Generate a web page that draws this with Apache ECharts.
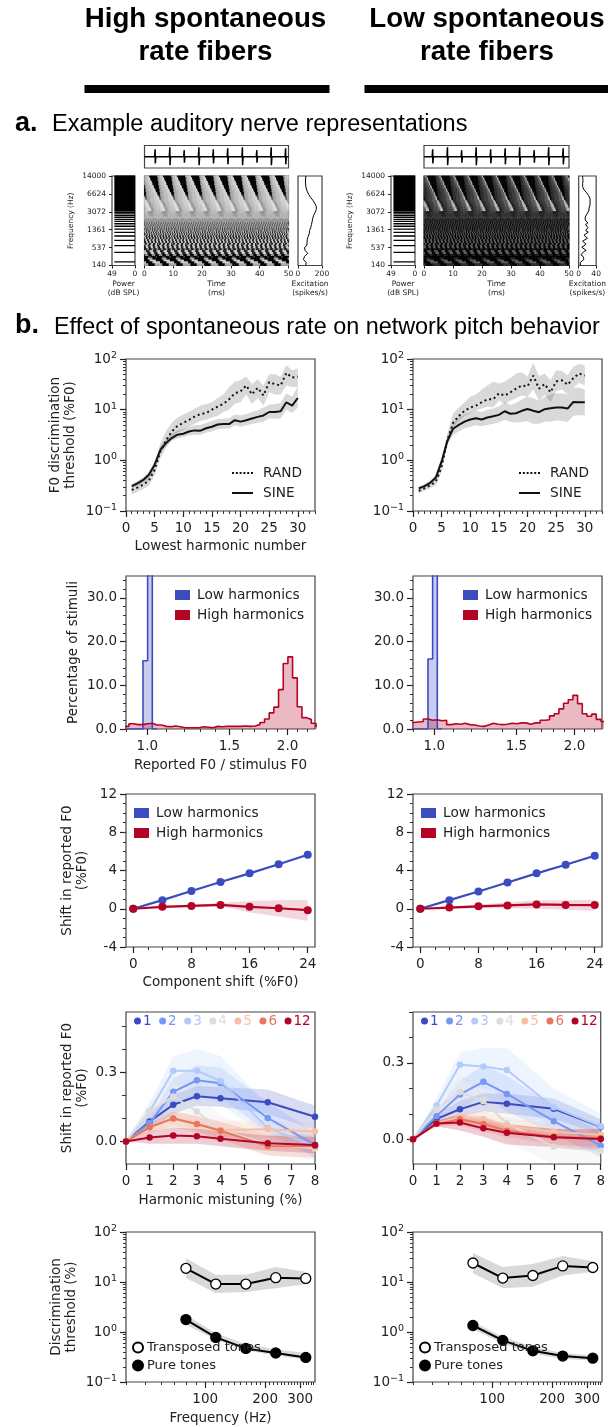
<!DOCTYPE html>
<html>
<head>
<meta charset="utf-8">
<title>Spontaneous rate</title>
<script src="https://cdn.jsdelivr.net/npm/echarts@6/dist/echarts.min.js"></script>
<style>
  html, body { margin: 0; padding: 0; background: #fff; }
  #chart { width: 608px; height: 1427px; }
</style>
</head>
<body>
<div id="chart"></div>
<script>
// a. auditory nerve panels
var harmonicsHz = [200,400,600,800,1000,1200,1400,1600,1800,2000,2200,2400,2600,2800,3000,3200,3400,3600,3800,4000,4200,4400,4600,4800,5000,5200,5400,5600,5800,6000,6200,6400,6600,6800,7000,7200,7400,7600,7800,8000,8200,8400,8600,8800,9000,9200,9400,9600,9800,10000,10200,10400,10600,10800,11000,11200,11400,11600,11800,12000,12200,12400,12600,12800,13000,13200,13400,13600,13800,14000];
var freqTicksHz = [140, 537, 1361, 3072, 6624, 14000];
var timeTicks = [0, 10, 20, 30, 40, 50];
var spikeTimesHigh = [3.7, 8.8, 13.8, 18.9, 23.9, 28.9, 34, 39, 44, 49];
var spikeTimesLow = [3, 8.1, 13, 18, 23, 28, 33, 38, 43, 48];
var spikeAmps = [0.8, 1, 0.7, 1, 0.8, 0.9, 1, 0.7, 1, 0.9];
// bottom to top, evenly spaced along the cochlea
var excitationHigh = [65,72,68,55,45,44,55,70,82,72,58,50,55,72,84,76,70,76,88,84,82,94,100,96,110,106,116,112,118,118,120,122,126,130,133,142,150,153,154,152,148,140,132,124,116,104,94,88,82,76,72,68,66,64,63,62,62,63,64,66];
var excitationLow = [4,2.5,3.5,8,12,14,10,5,5,11,17,13,7,8,17,15,9,12,20,16,12,16,22,16,15,21,17,16,21,18,15,15,15,16,19,22,23,23,24,25,26,26,26,26,26,25,23,21,18,15,12,10,9,9,9,10,10,10,9,9];
// one 5 ms period of the cochleagram, read by eye, top row first, 0-9 = dark to light
var cochleaPeriod = [
  "566677880000000000000045",
  "556667778800000000000004",
  "556666777880000000000004",
  "455666677778800000000000",
  "455566667777880000000000",
  "045556666677778800000000",
  "045555666667777880000000",
  "004555566666677778800000",
  "004555556666667777880000",
  "000455555666666777778800",
  "111455555666666677777881",
  "822245555566666667777788",
  "883334555566666667777778",
  "788844555566666667777777",
  "778888444555666666677777",
  "777888884445556666667777",
  "677788888444555666666777",
  "667777888884445556666677",
  "666777788888444555666667",
  "666665544444445555566666",
  "656565654545454565656565",
  "565656565454545456565656",
  "656575657565656565756575",
  "636363636363636363636363",
  "363636363636363636363636",
  "273273273273273273273273",
  "327327327327327327327327",
  "732732732732732732732732",
  "173173172731731731727317",
  "717317317172731731731727",
  "177117711771177117711771",
  "117711771177117711771177",
  "771117711177111771117711",
  "177111771117711177111771",
  "117771117771117771117771",
  "111777111777111777111777",
  "711117771111777111177711",
  "117777111177771111777711",
  "111777711117777111177771",
  "111114441111144411111444",
  "777111111777777111111777",
  "777771111117777771111117",
  "044444400000044444400000",
  "000000022220000000022200",
  "000000555555550000000000",
  "000000000777777777770000",
  "777000000000007777777777",
  "555555500000000000555555"
];

// b1. F0 discrimination
var harmonicNumbers = [1,2,3,4,5,6,7,8,9,10,11,12,13,14,15,16,17,18,19,20,21,22,23,24,25,26,27,28,29,30];
var randHigh = [.26,.29,.33,.40,.65,1.5,2.5,3.7,4.8,5.5,6.3,7.3,8.2,8.6,10,11.5,13,16,21,23,30,20,27,19,35,32,30,53,43,45];
var randHighLo = [.21,.24,.27,.32,.5,1.1,1.8,2.7,3.5,4.0,4.6,5.3,6,6.3,7,7.5,9,10,13,14,20,13,17,12,22,20,20,30,28,28];
var randHighHi = [.32,.36,.41,.5,.85,2.2,3.8,5.5,7,8,9,10.5,12,13,14,17,20,28,36,38,45,32,40,30,50,50,45,75,60,65];
var sineHigh = [.31,.35,.41,.52,.82,1.6,2.2,2.75,3.2,3.35,3.7,3.9,3.85,4.3,4.6,5.1,5.2,5.2,6.2,5.8,6.2,6.7,7.2,7.7,9,9,9.3,14,12,17];
var sineHighLo = [.28,.31,.36,.44,.7,1.4,1.9,2.4,2.7,2.9,3.1,3.2,3.2,3.5,3.7,4.1,4.2,4.2,4.9,4.6,4.9,5.2,5.5,5.8,6.7,6.6,6.8,10,8.5,11];
var sineHighHi = [.34,.39,.46,.6,.95,1.9,2.6,3.3,3.9,4.2,4.6,5,5,5.5,6,6.5,6.7,6.8,8,7.7,8.2,9,9.7,11,12.5,13,13.5,21,18,29];
var randLow = [.25,.28,.32,.38,.75,2.5,5.5,7.5,9.5,11,12,14,16,16,21,19,22,26,30,29,47,26,32,22,36,38,31,42,52,47];
var randLowLo = [.22,.25,.28,.32,.6,2,4.5,6,7.5,8.5,9.5,10.5,11.5,11,15,13,15,17,19,18,25,15,20,14,23,25,20,27,34,30];
var randLowHi = [.29,.32,.37,.47,1.0,3.3,8.5,11,14,18,20,25,30,36,33,36,42,52,55,45,85,46,52,38,60,58,48,70,80,75];
var sineLow = [.28,.31,.36,.46,.95,2.4,4.2,5,5.8,6.4,6.8,6.4,7,7.4,7.9,9.3,8.3,8.5,9.5,10.3,9.5,8.9,10.2,10.7,11,11,10.5,14.2,14,14];
var sineLowLo = [.26,.28,.33,.41,.8,2,3.2,3.7,4.3,4.6,4.9,4.7,5,5.3,5.6,6.3,5.7,5.6,5.7,5.9,5.2,5.3,5.8,5.8,6.1,6,5.7,7.5,7.8,7.8];
var sineLowHi = [.3,.34,.4,.52,1.15,3,5.5,7,8,8.8,9.5,9,10,10.5,11.5,14,12.5,13.5,16,18,17,15,18,20,21,21,20,27,27,25];

// b2. histograms of reported F0, 1/30 octave bins
var histStartHigh = 0.8923;
var histStartLow = 0.8835;
var binRatio = Math.pow(2, 1 / 30);
var histBlueHigh = [0,0,0,0,15.6,100,0];
var histRedHigh = [.6,1.2,1.0,1.0,1.2,1.3,.9,.9,.6,.5,.7,.5,.3,.3,.3,.3,.5,.4,.3,.6,.5,.6,.6,.6,.6,.7,.6,.7,1.0,1.5,2.3,3.7,5.0,9.0,15,16.5,11.7,5.1,2.6,2.2,1.3,.6];
var histBlueLow = [0,0,0,0,16,100,0];
var histRedLow = [1.5,1.6,1.7,2.3,2.0,2.1,1.9,2.0,1.0,1.2,1.1,1.3,1.0,.9,.7,.6,.9,1.3,1.1,1.0,1.1,1.3,1.2,1.4,1.4,1.1,1.4,1.4,2.0,2.1,3.0,3.5,4.6,5.9,6.7,7.7,5.8,3.5,2.9,3.4,2.2,1.7];

// b3. shifted components
var shiftX = [0,4,8,12,16,20,24];
var shiftBlueHigh = [0,.9,1.85,2.8,3.7,4.65,5.65];
var shiftRedHigh = [0,.2,.3,.4,.2,.05,-.15];
var shiftRedHighLo = [0,.1,.15,.3,-.4,-.8,-1.25];
var shiftRedHighHi = [0,.3,.45,.6,.8,.9,.95];
var shiftBlueLow = [0,.9,1.8,2.75,3.7,4.6,5.55];
var shiftRedLow = [0,.12,.25,.35,.45,.4,.38];
var shiftRedLowLo = [0,0,.05,.05,0,-.1,-.2];
var shiftRedLowHi = [.05,.25,.45,.65,.9,.9,.95];

// b4. mistuned harmonics
var mistuneX = [0,1,2,3,4,6,8];
var mistuneNames = ['1','2','3','4','5','6','12'];
var mistuneColors = ['#3b4cc0','#7597f6','#b1cbfa','#dddcdb','#f6bfa6','#e8765c','#b40426'];
var mistuneHigh = [
  [0,.087,.159,.196,.187,.17,.107],
  [0,.08,.215,.265,.252,.102,-.014],
  [0,.13,.306,.306,.262,.058,-.02],
  [0,.13,.195,.13,.05,-.01,-.03],
  [0,.062,.1,.076,.05,.053,.043],
  [0,.062,.1,.076,.047,-.019,-.02],
  [0,.018,.026,.023,.012,-.007,-.015]
];
var mistuneHighLo = [
  [0,.05,.12,.155,.15,.12,.05],
  [0,.06,.16,.2,.19,.04,-.07],
  [0,.09,.25,.21,.16,.02,-.06],
  [0,.09,.1,.05,-.01,-.06,-.08],
  [0,.04,.07,.05,.02,.02,0],
  [0,.04,.06,.04,.01,-.06,-.07],
  [0,-.01,-.01,-.01,-.02,-.04,-.05]
];
var mistuneHighHi = [
  [0,.12,.2,.24,.235,.225,.155],
  [0,.1,.27,.33,.32,.17,.04],
  [0,.17,.37,.4,.37,.16,.04],
  [0,.17,.29,.21,.11,.04,.02],
  [0,.08,.13,.11,.09,.09,.08],
  [0,.08,.13,.11,.085,.03,.03],
  [0,.045,.06,.055,.045,.025,.02]
];
var mistuneLow = [
  [0,.08,.118,.147,.14,.12,.049],
  [0,.092,.176,.226,.178,.071,-.025],
  [0,.132,.293,.286,.272,.126,.051],
  [0,.118,.186,.149,.063,-.029,-.045],
  [0,.063,.087,.079,.053,.03,.018],
  [0,.06,.079,.06,.034,.011,.004],
  [0,.062,.066,.043,.026,.008,.001]
];
var mistuneLowLo = [
  [0,.06,.09,.11,.1,.08,.02],
  [0,.07,.12,.17,.11,.02,-.07],
  [0,.1,.23,.2,.17,.04,0],
  [0,.08,.11,.08,-.01,-.1,-.13],
  [0,.05,.065,.05,.02,0,-.01],
  [0,.05,.055,.03,.01,-.02,-.03],
  [0,.05,.035,.01,-.02,-.03,-.04]
];
var mistuneLowHi = [
  [0,.1,.15,.18,.18,.16,.08],
  [0,.11,.23,.29,.25,.13,.03],
  [0,.16,.34,.36,.36,.2,.1],
  [0,.15,.25,.22,.14,.04,.03],
  [0,.08,.11,.11,.085,.06,.045],
  [0,.07,.1,.09,.06,.04,.03],
  [0,.075,.095,.075,.06,.04,.04]
];

// b5. transposed tones
var toneFreqs = [80,113,160,226,320];
var transHigh = [18.8,9.1,9.1,12.2,11.8];
var transHighLo = [12,6,6.3,7.5,9];
var transHighHi = [30,14,14,20,16];
var pureHigh = [1.77,.78,.47,.38,.31];
var pureHighLo = [1.4,.7,.43,.34,.28];
var pureHighHi = [2.2,.95,.57,.45,.38];
var transLow = [24,12,13.5,21,19.5];
var transLowLo = [15,7.5,8,13.5,16];
var transLowHi = [38,20,23,33,26];
var pureLow = [1.35,.68,.42,.33,.3];
var pureLowLo = [1.15,.58,.37,.29,.27];
var pureLowHi = [1.6,.8,.5,.38,.34];

var BLUE = '#3b4cc0', RED = '#b40426', SPINE = '#444', FONT = 'DejaVu Sans', HEAD = 'Liberation Sans';

function erb(f) { return 21.4 * Math.log10(1 + 0.00437 * f); }
var ERB_MIN = erb(140), ERB_MAX = erb(14000);

var grids = [], xAxes = [], yAxes = [], series = [], legends = [], visualMaps = [];

function decade(v) {
  var e = Math.round(Math.log10(v));
  return '{b|10}{s|' + (e < 0 ? '\u2212' + (-e) : e) + '}';
}
var decadeRich = { b: { fontSize: 13.5, fontFamily: FONT, color: '#222' }, s: { fontSize: 9.5, fontFamily: FONT, color: '#222', padding: [0, 0, 7, 0] } };

function axisPair(dir, cfg, gridIndex) {
  var fs = cfg.fontSize || 13.5;
  var base = { gridIndex: gridIndex, position: dir === 'x' ? 'bottom' : 'left', type: cfg.type || 'value', min: cfg.min, max: cfg.max, inverse: !!cfg.inverse, splitLine: { show: false } };
  if (cfg.type === 'log') base.logBase = 10;
  var major = Object.assign({}, base, {
    axisLine: { show: false, onZero: false },
    axisTick: { show: true, length: cfg.tick || 6, lineStyle: { color: '#222', width: cfg.tickWidth || 1.2 }, customValues: cfg.major },
    axisLabel: { show: !cfg.noLabels, customValues: cfg.major, formatter: cfg.formatter, rich: cfg.rich, color: '#222', fontSize: fs, fontFamily: FONT, margin: cfg.margin || (dir === 'x' ? 10 : 9), hideOverlap: false, showMinLabel: true, showMaxLabel: true },
    name: cfg.name, nameLocation: 'middle', nameGap: cfg.nameGap,
    nameTextStyle: { color: '#222', fontSize: cfg.nameSize || fs, fontFamily: FONT, lineHeight: cfg.nameLine || 15 }
  });
  var minor = Object.assign({}, base, {
    axisLine: { show: false, onZero: false },
    axisTick: { show: !!cfg.minor, length: cfg.minorTick || 3, lineStyle: { color: '#333', width: 1 }, customValues: cfg.minor || [] },
    axisLabel: { show: false }
  });
  var list = dir === 'x' ? xAxes : yAxes;
  list.push(major); var idx = list.length - 1;
  list.push(minor);
  return idx;
}

function panel(rect, xCfg, yCfg) {
  grids.push({ left: rect[0], top: rect[1], width: rect[2], height: rect[3], show: true, borderColor: SPINE, borderWidth: 1.2, backgroundColor: 'transparent' });
  var g = grids.length - 1;
  return { x: axisPair('x', xCfg, g), y: axisPair('y', yCfg, g), g: g };
}

// filled error band through the axes of the panel
function addBand(p, xs, lo, hi, color) {
  var pts = [];
  xs.forEach(function (x, i) { pts.push([x, lo[i]]); });
  for (var i = xs.length - 1; i >= 0; i--) pts.push([xs[i], hi[i]]);
  series.push({
    type: 'custom', xAxisIndex: p.x, yAxisIndex: p.y, silent: true, clip: true, z: 1,
    data: [pts[0]],
    renderItem: function (params, api) {
      return { type: 'polygon', shape: { points: pts.map(function (d) { return api.coord(d); }) }, style: { fill: color } };
    }
  });
}

function addLine(p, name, xs, ys, opt) {
  opt = opt || {};
  series.push({
    type: 'line', name: name, xAxisIndex: p.x, yAxisIndex: p.y, z: opt.z || 3, silent: true,
    color: opt.color, symbol: opt.symbol || 'none', symbolSize: opt.symbolSize || 7, showSymbol: !!opt.symbol,
    itemStyle: opt.itemStyle || { color: opt.color },
    lineStyle: { color: opt.color, width: opt.width || 2, type: opt.dash || 'solid' },
    data: xs.map(function (x, i) { return [x, ys[i]]; })
  });
}

function logMinors(lo, hi) {
  var out = [];
  for (var d = lo; d < hi; d *= 10) for (var k = 2; k < 10; k++) out.push(+(k * d).toPrecision(3));
  return out;
}
function nums(from, to, step) {
  var out = [];
  for (var v = from; v <= to + 1e-9; v += step) out.push(+v.toFixed(4));
  return out;
}

function erbPanelY(extra) {
  return Object.assign({ min: ERB_MIN, max: ERB_MAX, major: [], tick: 3, tickWidth: 1, noLabels: true, fontSize: 7.5 }, extra);
}

function topRow(cfg) {
  var yTop = 176, h = 89.5;
  // power spectrum
  var pw = panel([cfg.power[0], yTop, cfg.power[1], h], {
    min: 0, max: 49, inverse: true, major: [0, 49], tick: 3, tickWidth: 1, fontSize: 7.5, margin: 5,
    name: 'Power\n(dB SPL)', nameGap: 14, nameLine: 9, nameSize: 7.5
  }, erbPanelY({
    major: freqTicksHz.map(erb), noLabels: false, margin: 6,
    formatter: function (v) {
      for (var i = 0; i < freqTicksHz.length; i++) if (Math.abs(erb(freqTicksHz[i]) - v) < 0.01) return String(freqTicksHz[i]);
      return '';
    },
    name: 'Frequency (Hz)', nameGap: 26.5, nameSize: 7.5
  }));
  var pwData = [];
  harmonicsHz.forEach(function (f) { pwData.push([44, erb(f)], [0, erb(f)], ['-', '-']); });
  series.push({ type: 'line', xAxisIndex: pw.x, yAxisIndex: pw.y, symbol: 'none', silent: true, connectNulls: false, lineStyle: { color: '#000', width: 1.3 }, data: pwData });

  // cochleagram
  var sp = panel([cfg.spec[0], yTop, cfg.spec[1], h], {
    min: 0, max: 50, major: timeTicks, tick: 3, tickWidth: 1, fontSize: 7.5, margin: 5,
    name: 'Time\n(ms)', nameGap: 14, nameLine: 9, nameSize: 7.5
  }, erbPanelY({}));
  var cats = [], rows = [];
  for (var c = 0; c < 247; c++) cats.push(c);
  for (var r = 0; r < cochleaPeriod.length; r++) rows.push(r);
  xAxes.push({ gridIndex: sp.g, type: 'category', show: false, data: cats });
  yAxes.push({ gridIndex: sp.g, type: 'category', show: false, data: rows });
  var hm = [];
  cochleaPeriod.forEach(function (row, ri) {
    for (var i = 0; i < 247; i++) hm.push([i, cochleaPeriod.length - 1 - ri, +row.charAt((i + cfg.phase) % 24)]);
  });
  series.push({ type: 'heatmap', xAxisIndex: xAxes.length - 1, yAxisIndex: yAxes.length - 1, silent: true, progressive: 0, data: hm });
  visualMaps.push({ show: false, type: 'continuous', seriesIndex: series.length - 1, dimension: 2, min: 0, max: 9, inRange: { color: cfg.ramp } });

  // waveform
  var wv = panel([cfg.spec[0], 145.5, cfg.spec[1], 22.5], { min: 0, max: 50, major: [], noLabels: true, tick: 0 }, { min: -1.2, max: 1.2, major: [], noLabels: true, tick: 0 });
  var wave = [[0, 0]];
  cfg.spikes.forEach(function (t, i) {
    var a = spikeAmps[i];
    wave.push([t - 0.2, 0], [t, a], [t + 0.05, -a * 0.9], [t + 0.25, 0]);
  });
  wave.push([50, 0]);
  series.push({ type: 'line', xAxisIndex: wv.x, yAxisIndex: wv.y, symbol: 'none', silent: true, lineStyle: { color: '#000', width: 1.5 }, data: wave });

  // excitation pattern
  var ex = panel([cfg.exc[0], yTop, cfg.exc[1], h], {
    min: 0, max: cfg.excMax, major: [0, cfg.excMax], tick: 3, tickWidth: 1, fontSize: 7.5, margin: 5,
    name: 'Excitation\n(spikes/s)', nameGap: 14, nameLine: 9, nameSize: 7.5
  }, erbPanelY({}));
  series.push({
    type: 'line', xAxisIndex: ex.x, yAxisIndex: ex.y, symbol: 'none', silent: true, lineStyle: { color: '#000', width: 1 },
    data: cfg.excitation.map(function (v, i) { return [v, ERB_MIN + i * (ERB_MAX - ERB_MIN) / (cfg.excitation.length - 1)]; })
  });
}

topRow({ power: [112, 23], spec: [144.5, 144], exc: [298, 24], excMax: 200, excitation: excitationHigh, spikes: spikeTimesHigh, phase: 0,
  ramp: ['#000000', '#1c1c1c', '#444444', '#6e6e6e', '#8f8f8f', '#a8a8a8', '#bcbcbc', '#cccccc', '#dedede', '#eeeeee'] });
topRow({ power: [391, 24], spec: [424, 145], exc: [578.7, 23.5], excMax: 40, excitation: excitationLow, spikes: spikeTimesLow, phase: 3,
  ramp: ['#000000', '#010101', '#030303', '#0c0c0c', '#1c1c1c', '#2a2a2a', '#3c3c3c', '#5a5a5a', '#b8b8b8', '#eeeeee'] });

// threshold vs harmonic
function thresholdPanel(left, showNames, rand, randLo, randHi, sine, sineLo, sineHi) {
  var p = panel([left, 359, 189, 152], {
    min: 0, max: 33, major: [0,5,10,15,20,25,30], minor: nums(1, 33, 1),
    name: showNames ? 'Lowest harmonic number' : '', nameGap: 28
  }, {
    type: 'log', min: 0.1, max: 100, major: [0.1,1,10,100], minor: logMinors(0.1, 100), formatter: decade, rich: decadeRich,
    name: showNames ? 'F0 discrimination\nthreshold (%F0)' : '', nameGap: 48
  });
  addBand(p, harmonicNumbers, randLo, randHi, 'rgba(0,0,0,0.15)');
  addBand(p, harmonicNumbers, sineLo, sineHi, 'rgba(0,0,0,0.15)');
  addLine(p, 'RAND', harmonicNumbers, rand, { color: '#111', dash: [2, 3] });
  addLine(p, 'SINE', harmonicNumbers, sine, { color: '#111' });
  legends.push({
    left: left + 106, top: 466, padding: 0, orient: 'vertical', itemWidth: 21, itemHeight: 2.2, itemGap: 6, selectedMode: false,
    data: [
      { name: 'RAND', icon: 'path://M0 0h2v2h-2zM3.8 0h2v2h-2zM7.6 0h2v2h-2zM11.4 0h2v2h-2zM15.2 0h2v2h-2zM19 0h2v2h-2z' },
      { name: 'SINE', icon: 'path://M0 0h21v2h-21z' }
    ],
    textStyle: { fontSize: 13.7, fontFamily: FONT, color: '#222', padding: [0, 0, 0, 5] }
  });
}
thresholdPanel(126, true, randHigh, randHighLo, randHighHi, sineHigh, sineHighLo, sineHighHi);
thresholdPanel(413, false, randLow, randLowLo, randLowHi, sineLow, sineLowLo, sineLowHi);

// histograms
function histLine(p, name, start, vals, color) {
  var pts = [], e = start;
  vals.forEach(function (v) { pts.push([e, v]); e *= binRatio; });
  pts.push([e, vals[vals.length - 1]]);
  series.push({
    type: 'line', name: name, step: 'end', xAxisIndex: p.x, yAxisIndex: p.y, symbol: 'none', showSymbol: false, silent: true, z: 3,
    color: color, itemStyle: { color: color }, lineStyle: { color: color, width: 1.6 }, areaStyle: { color: color, opacity: 0.28 }, data: pts
  });
}
function histPanel(left, showNames, start, blue, red, legLeft) {
  var p = panel([left, 576, 189, 153], {
    type: 'log', min: 0.9, max: 2.29, major: [1, 1.5, 2], minor: [0.9,1.1,1.2,1.3,1.4,1.6,1.7,1.8,1.9,2.1,2.2],
    formatter: function (v) { return v.toFixed(1); },
    name: showNames ? 'Reported F0 / stimulus F0' : '', nameGap: 29
  }, {
    min: 0, max: 35, major: [0,10,20,30], minor: nums(2, 34, 2), formatter: function (v) { return v.toFixed(1); },
    name: showNames ? 'Percentage of stimuli' : '', nameGap: 45
  });
  histLine(p, 'Low harmonics', start, blue, BLUE);
  histLine(p, 'High harmonics', start, red, RED);
  legends.push({ left: legLeft, top: 588, padding: 0, orient: 'vertical', icon: 'rect', itemWidth: 15, itemHeight: 10, itemGap: 6, selectedMode: false, data: ['Low harmonics', 'High harmonics'], textStyle: { fontSize: 13.7, fontFamily: FONT, color: '#222', padding: [0, 0, 0, 2] } });
}
histPanel(126, true, histStartHigh, histBlueHigh, histRedHigh, 175);
histPanel(413, false, histStartLow, histBlueLow, histRedLow, 463);

// shift panels
function shiftPanel(left, showNames, blue, red, redLo, redHi) {
  var p = panel([left, 794, 189, 153], {
    min: -1, max: 25, major: [0,8,16,24], minor: nums(2, 22, 2),
    name: showNames ? 'Component shift (%F0)' : '', nameGap: 28
  }, {
    min: -4, max: 12, major: [-4,0,4,8,12], minor: nums(-3, 11, 1),
    name: showNames ? 'Shift in reported F0\n(%F0)' : '', nameGap: 36
  });
  addBand(p, shiftX, redLo, redHi, 'rgba(180,4,38,0.16)');
  addLine(p, 'Low harmonics', shiftX, blue, { color: BLUE, symbol: 'circle', symbolSize: 8, width: 2.2 });
  addLine(p, 'High harmonics', shiftX, red, { color: RED, symbol: 'circle', symbolSize: 8, width: 2.2 });
  legends.push({ left: left + 8, top: 806, padding: 0, orient: 'vertical', icon: 'rect', itemWidth: 15, itemHeight: 10, itemGap: 6, selectedMode: false, data: ['Low harmonics', 'High harmonics'], textStyle: { fontSize: 13.7, fontFamily: FONT, color: '#222', padding: [0, 0, 0, 2] } });
}
shiftPanel(126, true, shiftBlueHigh, shiftRedHigh, shiftRedHighLo, shiftRedHighHi);
shiftPanel(413, false, shiftBlueLow, shiftRedLow, shiftRedLowLo, shiftRedLowHi);

// mistuning panels
function mistunePanel(left, showNames, yMax, vals, lo, hi, legLeft) {
  var p = panel([left, 1012, 189, 152], {
    min: 0, max: 8, major: [0,1,2,3,4,5,6,7,8],
    name: showNames ? 'Harmonic mistuning (%)' : '', nameGap: 29
  }, {
    min: -0.097, max: yMax, major: [0, 0.3], minor: [0.1, 0.2, 0.4, 0.5], minorTick: 4, formatter: function (v) { return v.toFixed(1); },
    name: showNames ? 'Shift in reported F0\n(%F0)' : '', nameGap: 36
  });
  mistuneNames.forEach(function (n, i) {
    var rgb = mistuneColors[i];
    var r = parseInt(rgb.substr(1, 2), 16), g = parseInt(rgb.substr(3, 2), 16), b = parseInt(rgb.substr(5, 2), 16);
    addBand(p, mistuneX, lo[i], hi[i], 'rgba(' + r + ',' + g + ',' + b + ',0.2)');
  });
  mistuneNames.forEach(function (n, i) {
    addLine(p, n, mistuneX, vals[i], { color: mistuneColors[i], symbol: 'circle', symbolSize: 6.5, z: 3 + i });
  });
  legends.push({
    left: legLeft, top: 1014, padding: 0, orient: 'horizontal', icon: 'circle', itemWidth: 7, itemHeight: 7, itemGap: 7.5, selectedMode: false,
    data: mistuneNames.map(function (n, i) { return { name: n, textStyle: { color: mistuneColors[i], fontSize: 13.5, fontFamily: FONT, padding: [0, 0, 0, -3] } }; })
  });
}
mistunePanel(126, true, 0.56, mistuneHigh, mistuneHighLo, mistuneHighHi, 134);
mistunePanel(413, false, 0.5, mistuneLow, mistuneLowLo, mistuneLowHi, 421);

// tones
function tonePanel(left, showNames, trans, transLo, transHi, pure, pureLo, pureHi) {
  var p = panel([left, 1232, 189, 150], {
    type: 'log', min: 40, max: 356, major: [100, 200, 300], minor: [40,50,60,70,80,90,110,120,130,140,150,160,170,180,190,210,220,230,240,250,260,270,280,290,310,320,330,340,350],
    formatter: function (v) { return String(Math.round(v)); },
    name: showNames ? 'Frequency (Hz)' : '', nameGap: 29
  }, {
    type: 'log', min: 0.1, max: 100, major: [0.1,1,10,100], minor: logMinors(0.1, 100), formatter: decade, rich: decadeRich,
    name: showNames ? 'Discrimination\nthreshold (%)' : '', nameGap: 47
  });
  addBand(p, toneFreqs, transLo, transHi, 'rgba(0,0,0,0.15)');
  addBand(p, toneFreqs, pureLo, pureHi, 'rgba(0,0,0,0.15)');
  addLine(p, 'Transposed tones', toneFreqs, trans, { color: '#000', symbol: 'circle', symbolSize: 10, itemStyle: { color: '#fff', borderColor: '#000', borderWidth: 1.3 } });
  addLine(p, 'Pure tones', toneFreqs, pure, { color: '#000', symbol: 'circle', symbolSize: 10, itemStyle: { color: '#000', borderColor: '#000', borderWidth: 1.3 } });
  legends.push({ left: left + 6, top: 1341, padding: 0, orient: 'vertical', icon: 'circle', itemWidth: 10, itemHeight: 10, itemGap: 5, selectedMode: false, data: ['Transposed tones', 'Pure tones'], textStyle: { fontSize: 13, fontFamily: FONT, color: '#222', padding: [0, 0, 0, -1] } });
}
tonePanel(126, true, transHigh, transHighLo, transHighHi, pureHigh, pureHighLo, pureHighHi);
tonePanel(413, false, transLow, transLowLo, transLowHi, pureLow, pureLowLo, pureLowHi);

function head(x, y, text, font, weight, align) {
  return { type: 'text', x: x, y: y, silent: true, style: { text: text, fill: '#000', font: weight + ' ' + font + 'px "' + HEAD + '"', align: align || 'left', verticalAlign: 'middle' } };
}

var option = {
  animation: false,
  textStyle: { fontFamily: FONT },
  grid: grids, xAxis: xAxes, yAxis: yAxes, series: series, legend: legends, visualMap: visualMaps,
  graphic: [
    head(205.5, 19, 'High spontaneous', 27.7, 'bold', 'center'),
    head(205.5, 52, 'rate fibers', 27.7, 'bold', 'center'),
    head(487, 19, 'Low spontaneous', 27.7, 'bold', 'center'),
    head(487, 52, 'rate fibers', 27.7, 'bold', 'center'),
    { type: 'rect', silent: true, shape: { x: 84.5, y: 85, width: 245, height: 8 }, style: { fill: '#000' } },
    { type: 'rect', silent: true, shape: { x: 364.5, y: 85, width: 244, height: 8 }, style: { fill: '#000' } },
    head(15, 124, 'a.', 27, 'bold'),
    head(52, 124.5, 'Example auditory nerve representations', 23.5, 'normal'),
    head(15, 326, 'b.', 27, 'bold'),
    head(54, 327.5, 'Effect of spontaneous rate on network pitch behavior', 23.4, 'normal')
  ]
};

var chart = echarts.init(document.getElementById('chart'), null, { renderer: 'canvas' });
chart.setOption(option);
</script>
</body>
</html>
